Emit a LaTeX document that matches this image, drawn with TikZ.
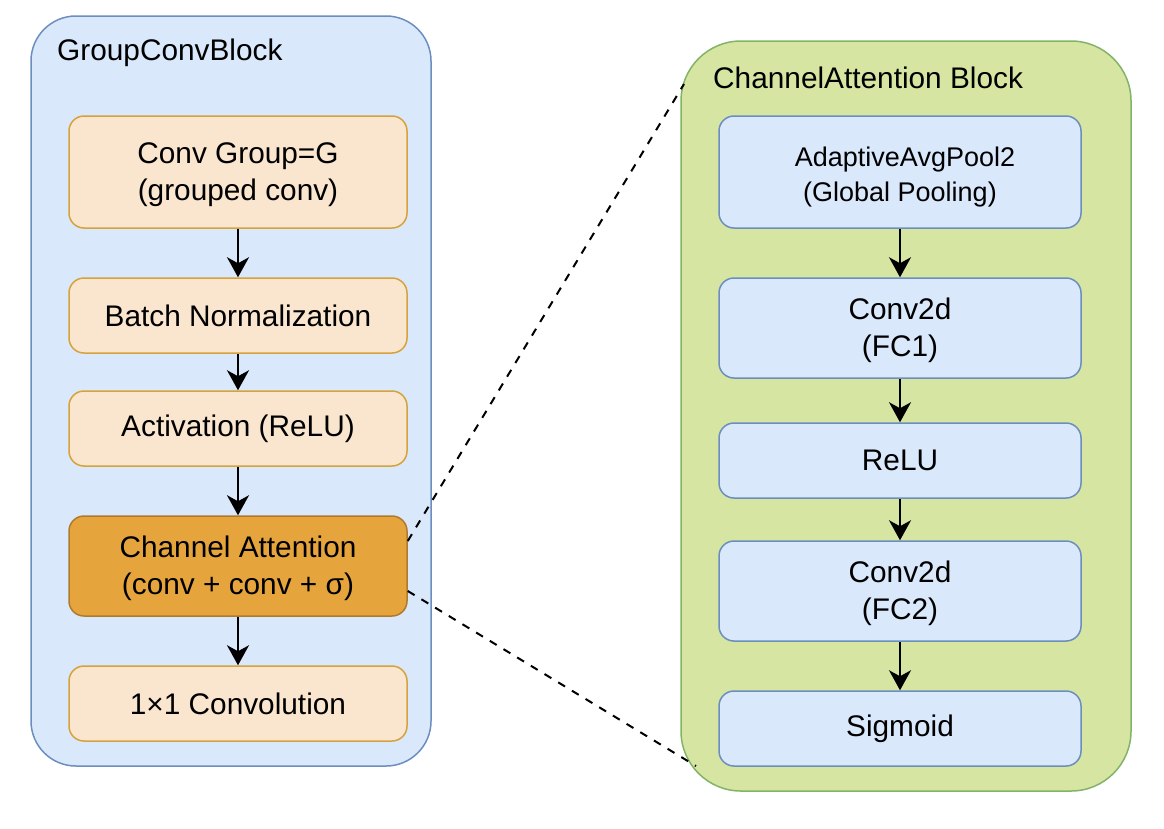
\documentclass[tikz,border=0pt]{standalone}
\usepackage{fontspec}
\setmainfont{Liberation Sans}
\usetikzlibrary{arrows.meta,calc}
\definecolor{bluefill}{HTML}{DAE8FC}
\definecolor{bluedraw}{HTML}{6C8EBF}
\definecolor{greenfill}{HTML}{D6E6A2}
\definecolor{greendraw}{HTML}{82B366}
\definecolor{orfill}{HTML}{FAE6CF}
\definecolor{ordraw}{HTML}{D6A23A}
\definecolor{cafill}{HTML}{E6A53C}
\definecolor{cadraw}{HTML}{B07A2C}
\newcommand{\upstrut}[1]{\rule{0pt}{#1}}
\tikzset{
  cont/.style={draw=#1draw, fill=#1fill, line width=1.5pt, inner sep=0pt},
  obox/.style={draw=ordraw, fill=orfill, line width=1.5pt, rounded corners=15pt,
    minimum width=338pt, align=center, inner sep=0pt, font=\fontsize{29.8}{37}\selectfont},
  cabox/.style={obox, draw=cadraw, fill=cafill},
  bbox/.style={draw=bluedraw, fill=bluefill, line width=1.5pt, rounded corners=15pt,
    minimum width=362pt, align=center, inner sep=0pt, font=\fontsize{29.8}{37}\selectfont},
  title/.style={anchor=west, inner sep=0pt, font=\fontsize{29.8}{36}\selectfont},
  arr/.style={line width=2pt, -{Stealth[length=20pt,width=22pt,inset=6pt]}},
  zoomline/.style={line width=2pt, dash pattern=on 8pt off 8pt},
}
\begin{document}
\begin{tikzpicture}[x=1pt,y=-1pt]
\useasboundingbox (0,0) rectangle (1164,828);
% containers
\node[cont=blue, rounded corners=45pt, minimum width=400pt, minimum height=750pt] (gcb) at (231,391) {};
\node[cont=green, rounded corners=60pt, minimum width=450pt, minimum height=750pt] (cab) at (906,416) {};
\node[title] (gt) at (57,53) {GroupConvBlock};
\node[title] (ct) at (713,78) {ChannelAttention Block};
% left boxes
\node[obox, minimum height=112pt] (g1) at (238,172) {\upstrut{27pt}Conv Group=G\\(grouped conv)};
\node[obox, minimum height=75pt] (g2) at (238,315.5) {Batch Normalization};
\node[obox, minimum height=75pt] (g3) at (238,428.5) {Activation (ReLU)};
\node[cabox, minimum height=100pt] (g4) at (238,566) {\upstrut{27pt}Channel Attention\\(conv + conv + σ)};
\node[obox, minimum height=75pt] (g5) at (238,703.5) {1×1 Convolution};
% right boxes
\node[bbox, minimum height=112pt, font=\fontsize{27}{35}\selectfont] (c1) at (900,172) {\upstrut{30pt}\hspace*{10pt}AdaptiveAvgPool2\\(Global Pooling)};
\node[bbox, minimum height=100pt] (c2) at (900,328) {\upstrut{27pt}Conv2d\\(FC1)};
\node[bbox, minimum height=75pt] (c3) at (900,460.5) {ReLU};
\node[bbox, minimum height=100pt] (c4) at (900,591) {\upstrut{27pt}Conv2d\\(FC2)};
\node[bbox, minimum height=75pt] (c5) at (900,728.5) {Sigmoid};
% arrows
\draw[arr] (g1.south) -- (g2.north);
\draw[arr] (g2.south) -- (g3.north);
\draw[arr] (g3.south) -- (g4.north);
\draw[arr] (g4.south) -- (g5.north);
\draw[arr] (c1.south) -- (c2.north);
\draw[arr] (c2.south) -- (c3.north);
\draw[arr] (c3.south) -- (c4.north);
\draw[arr] (c4.south) -- (c5.north);
% zoom lines
\coordinate (za) at ($(g4.east)+(0,-25)$);
\coordinate (zb) at ($(g4.east)+(0,25)$);
\coordinate (zc) at (684,84);
\coordinate (zd) at (696,766);
\draw[zoomline] (za) -- (zc);
\draw[zoomline] (zb) -- (zd);
\end{tikzpicture}
\end{document}
